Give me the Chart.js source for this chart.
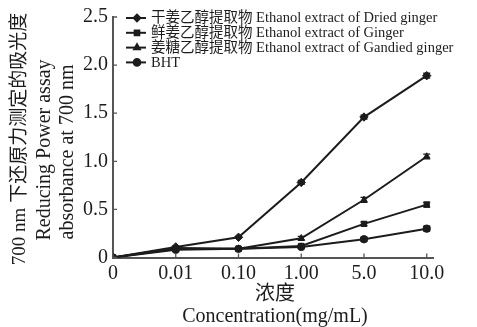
<!DOCTYPE html>
<html><head><meta charset="utf-8">
<script src="https://cdn.jsdelivr.net/npm/chart.js@4.4.1/dist/chart.umd.min.js"></script>
<style>html,body{margin:0;padding:0;background:#fff}#wrap{width:477px;height:327px;position:relative}</style>
</head><body><div id="wrap"><canvas id="c"></canvas></div>
<script>
const categories = ['0', '0.01', '0.10', '1.00', '5.0', '10.0'];
const seriesLabels = [
  '干姜乙醇提取物 Ethanol extract of Dried ginger',
  '鲜姜乙醇提取物 Ethanol extract of Ginger',
  '姜糖乙醇提取物 Ethanol extract of Gandied ginger',
  'BHT'
];
const driedGinger   = [0, 0.11, 0.21, 0.78, 1.46, 1.89];
const freshGinger   = [0, 0.09, 0.09, 0.12, 0.35, 0.55];
const candiedGinger = [0, 0.10, 0.09, 0.20, 0.60, 1.05];
const bht           = [0, 0.08, 0.09, 0.11, 0.19, 0.30];
const driedErr   = [0.01, 0.01, 0.01, 0.02, 0.02, 0.025];
const freshErr   = [0.01, 0.01, 0.01, 0.015, 0.02, 0.025];
const candiedErr = [0.01, 0.01, 0.01, 0.02, 0.025, 0.025];
const bhtErr     = [0.01, 0.01, 0.01, 0.01, 0.02, 0.025];
const yTicks = [0, 0.5, 1.0, 1.5, 2.0, 2.5];
const yTitleLines = ['700 nm 下还原力测定的吸光度', 'Reducing Power assay', 'absorbance at 700 nm'];
const xTitleLines = ['浓度', 'Concentration(mg/mL)'];

const FONT = '"Liberation Serif", "Noto Sans CJK SC", serif';
const INK = '#1c1c1c';
const AXIS = '#555';
const pointStyles = ['rectRot', 'rect', 'triangle', 'circle'];
const allValues = [driedGinger, freshGinger, candiedGinger, bht];
const allErrs = [driedErr, freshErr, candiedErr, bhtErr];

const datasets = allValues.map((vals, k) => ({
  label: seriesLabels[k],
  data: vals.map((v, i) => ({x: i, y: v})),
  errors: allErrs[k],
  borderColor: INK,
  backgroundColor: INK,
  borderWidth: 2,
  pointStyle: pointStyles[k],
  pointRadius: k === 0 ? 4.2 : 3.7,
  pointBorderWidth: 1,
  pointBackgroundColor: INK,
  tension: 0
}));

const errorBars = {
  id: 'errorBars',
  afterDatasetsDraw(chart) {
    const ctx = chart.ctx, ys = chart.scales.y;
    ctx.save();
    ctx.strokeStyle = INK; ctx.lineWidth = 1.4;
    chart.data.datasets.forEach((ds, k) => {
      const meta = chart.getDatasetMeta(k);
      meta.data.forEach((pt, i) => {
        const v = ds.data[i].y, e = ds.errors[i];
        if (!e || i === 0) return;
        const t = ys.getPixelForValue(v + e), b = ys.getPixelForValue(v - e);
        ctx.beginPath();
        ctx.moveTo(pt.x, t); ctx.lineTo(pt.x, b);
        ctx.moveTo(pt.x - 3.5, t); ctx.lineTo(pt.x + 3.5, t);
        ctx.moveTo(pt.x - 3.5, b); ctx.lineTo(pt.x + 3.5, b);
        ctx.stroke();
      });
    });
    ctx.restore();
  }
};

const inwardTicks = {
  id: 'inwardTicks',
  afterDraw(chart) {
    const ctx = chart.ctx, xs = chart.scales.x, ys = chart.scales.y, a = chart.chartArea;
    ctx.save();
    ctx.strokeStyle = AXIS; ctx.lineWidth = 1.3;
    ctx.beginPath();
    xs.ticks.forEach(t => { const p = xs.getPixelForValue(t.value); ctx.moveTo(p, a.bottom); ctx.lineTo(p, a.bottom - 4); });
    ys.ticks.forEach(t => { const p = ys.getPixelForValue(t.value); ctx.moveTo(a.left, p); ctx.lineTo(a.left + 4, p); });
    ctx.stroke();
    ctx.restore();
  }
};

const titlesAndLegend = {
  id: 'titlesAndLegend',
  afterDraw(chart) {
    const ctx = chart.ctx;
    ctx.save();
    ctx.fillStyle = INK;
    ctx.textAlign = 'center'; ctx.textBaseline = 'middle';
    const yPos = [[20, 139, 19], [45, 150, 20], [68, 152, 20]];
    yTitleLines.forEach((t, i) => {
      ctx.save();
      ctx.translate(yPos[i][0], yPos[i][1]);
      ctx.rotate(-Math.PI / 2);
      ctx.font = yPos[i][2] + 'px ' + FONT;
      ctx.fillText(t, 0, 0);
      ctx.restore();
    });
    const xPos = [[275, 295, 20], [275, 317, 20]];
    xTitleLines.forEach((t, i) => {
      ctx.font = xPos[i][2] + 'px ' + FONT;
      ctx.fillText(t, xPos[i][0], xPos[i][1]);
    });
    chart.data.datasets.forEach((ds, k) => {
      const y = 18 + k * 14.8;
      ctx.strokeStyle = INK; ctx.lineWidth = 2;
      ctx.beginPath(); ctx.moveTo(126, y); ctx.lineTo(146, y); ctx.stroke();
      Chart.helpers.drawPoint(ctx, {pointStyle: ds.pointStyle, radius: 3.3, rotation: 0, borderWidth: 1}, 137, y);
      ctx.fillStyle = INK;
      ctx.font = '14.5px ' + FONT;
      ctx.textAlign = 'left';
      ctx.fillText(ds.label, 151, y + 0.5);
    });
    ctx.restore();
  }
};

new Chart(document.getElementById('c'), {
  type: 'line',
  data: {datasets},
  plugins: [errorBars, inwardTicks, titlesAndLegend],
  options: {
    responsive: true, maintainAspectRatio: false, animation: false,
    layout: {padding: {left: 0, right: 44, top: 15, bottom: 0}},
    plugins: {legend: {display: false}, tooltip: {enabled: false}},
    scales: {
      x: {
        type: 'linear', min: 0, max: 5.1,
        afterBuildTicks: s => { s.ticks = categories.map((c, i) => ({value: i})); },
        afterFit: s => { s.height = 69.5; },
        border: {color: AXIS, width: 2},
        grid: {drawOnChartArea: false, drawTicks: false},
        ticks: {color: INK, font: {family: FONT, size: 20}, padding: 4, maxRotation: 0, autoSkip: false,
          callback: v => categories[v]}
      },
      y: {
        min: 0, max: 2.5,
        afterBuildTicks: s => { s.ticks = yTicks.map(v => ({value: v})); },
        afterFit: s => { s.width = 113; },
        border: {color: AXIS, width: 2},
        grid: {drawOnChartArea: false, drawTicks: false},
        ticks: {color: INK, font: {family: FONT, size: 20}, padding: 5,
          callback: v => v === 0 ? '0' : v.toFixed(1)}
      }
    }
  }
});
</script></body></html>
